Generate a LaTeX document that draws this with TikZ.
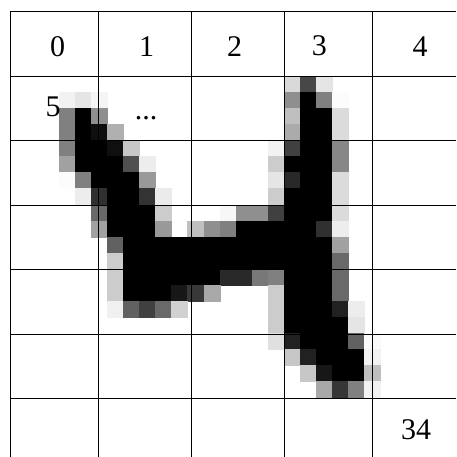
\documentclass[tikz,border=0pt]{standalone}
\usepackage{fontspec}
\setmainfont{Liberation Serif}
\begin{document}
\begin{tikzpicture}[x=1pt,y=-1pt,
  gridline/.style={draw=black,line width=0.9pt},
  lab/.style={anchor=base,inner sep=0pt,font=\fontsize{30}{30}\selectfont}]
\useasboundingbox (0,0) rectangle (456,457);
\fill[white] (0,0) rectangle (456,457);
% digit pixels: row / first column / run length / percent black
\foreach \r/\c/\n/\k in {
0/14/1/15,0/15/1/72,0/16/1/10,
1/0/1/5,1/1/1/10,1/2/1/4,1/14/1/44,1/15/1/100,1/16/1/50,1/17/1/1,
2/0/1/50,2/1/1/100,2/2/1/44,2/14/1/25,2/15/2/100,2/17/1/14,
3/0/1/50,3/1/1/100,3/2/1/94,3/3/1/31,3/14/1/33,3/15/2/100,3/17/1/14,
4/0/1/50,4/1/2/100,4/3/1/94,4/4/1/22,4/13/1/5,4/14/1/75,4/15/2/100,4/17/1/47,
5/0/1/37,5/1/3/100,5/4/1/69,5/5/1/7,5/13/1/20,5/14/3/100,5/17/1/47,
6/0/1/1,6/1/1/50,6/2/3/100,6/5/1/40,6/13/1/10,6/14/1/84,6/15/2/100,6/17/1/14,
7/1/1/7,7/2/1/81,7/3/2/100,7/5/1/80,7/6/1/8,7/13/1/20,7/14/3/100,7/17/1/14,
8/2/1/59,8/3/3/100,8/6/1/20,8/10/1/3,8/11/2/44,8/13/1/75,8/14/3/100,8/17/1/14,
9/2/1/37,9/3/3/100,9/6/1/40,9/8/1/25,9/9/1/44,9/10/1/50,9/11/5/100,9/16/1/81,9/17/1/7,
10/3/1/62,10/4/13/100,10/17/1/37,
11/3/1/20,11/4/13/100,11/17/1/59,
12/3/1/20,12/4/6/100,12/10/2/84,12/12/1/53,12/13/1/50,12/14/3/100,12/17/1/59,
13/3/1/20,13/4/3/100,13/7/1/91,13/8/1/78,13/9/1/34,13/13/1/20,13/14/3/100,13/17/1/59,
14/3/1/6,14/4/1/62,14/5/1/75,14/6/1/59,14/7/1/18,14/13/1/20,14/14/3/100,14/17/1/87,14/18/1/7,
15/13/1/20,15/14/4/100,15/18/1/10,
16/13/1/12,16/14/1/87,16/15/3/100,16/18/1/62,16/19/1/2,
17/14/1/22,17/15/1/87,17/16/3/100,17/19/1/5,
18/15/1/22,18/16/1/91,18/17/2/100,18/19/1/25,
19/16/1/34,19/17/1/79,19/18/1/50,19/19/1/5}{
  \pgfmathsetmacro{\xa}{59+16.07*\c}
  \pgfmathsetmacro{\xb}{59+16.07*(\c+\n)}
  \pgfmathsetmacro{\ya}{76+16.08*\r}
  \pgfmathsetmacro{\yb}{76+16.08*(\r+1)}
  \fill[black!\k,draw=black!\k,line width=0.15pt] (\xa,\ya) rectangle (\xb,\yb);
}
% grid
\foreach \gx in {10,98.5,191.5,284.3,372.7}
  \draw[gridline] (\gx,11.3) -- (\gx,457);
\foreach \gy in {11.3,76,140.3,205,269.7,334,398.7}
  \draw[gridline] (10,\gy) -- (456,\gy);
% labels
\node[lab] (t0) at (57.5,56.6) {0};
\node[lab] (t1) at (146.5,56.6) {1};
\node[lab] (t2) at (234.7,56.6) {2};
\node[lab] (t3) at (319.3,55.2) {3};
\node[lab] (t4) at (420,56.6) {4};
\node[lab] (t5) at (53,116.7) {5};
\node[lab] (tdots) at (146,120) {...};
\node[lab] (t34) at (416,439) {34};
\end{tikzpicture}
\end{document}
